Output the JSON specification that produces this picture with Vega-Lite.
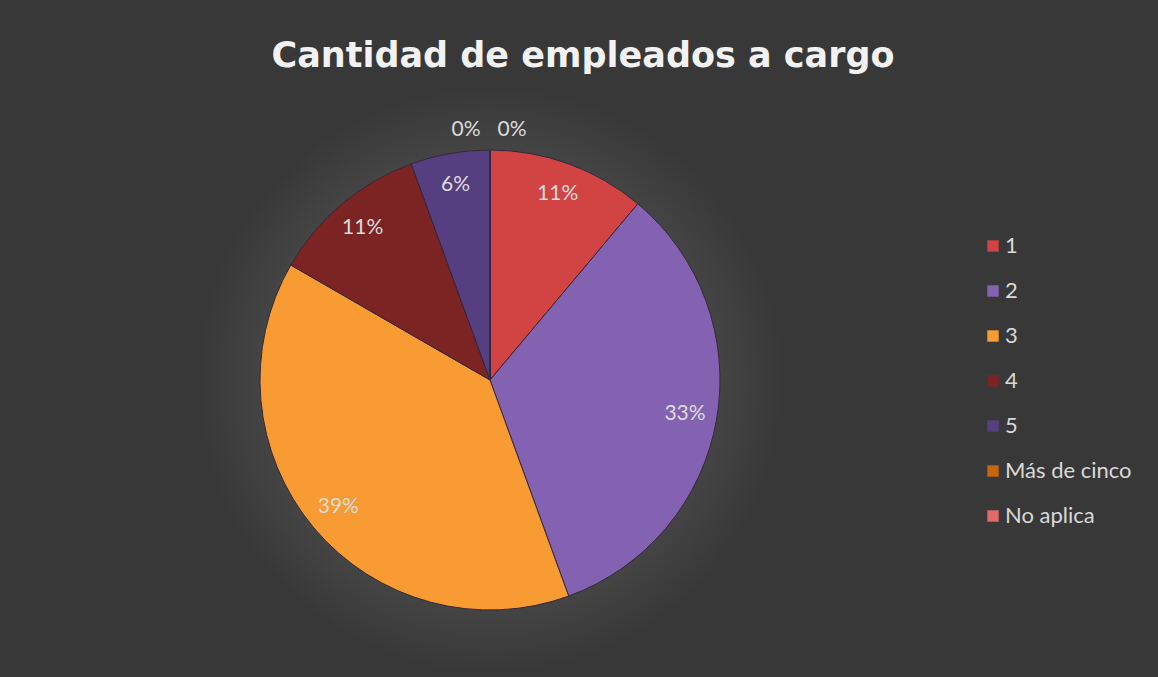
{
  "$schema": "https://vega.github.io/schema/vega-lite/v6.json",
  "autosize": {"type": "none"},
  "width": 980,
  "height": 594,
  "padding": {"left": 0, "top": 83, "right": 178, "bottom": 0},
  "background": "#383838",
  "view": {
    "stroke": null,
    "fill": {
      "gradient": "radial",
      "x1": 0.5, "y1": 0.5, "x2": 0.5, "y2": 0.5, "r1": 0, "r2": 0.3,
      "stops": [
        {"offset": 0, "color": "#4a4a4a"},
        {"offset": 0.75, "color": "#464646"},
        {"offset": 1, "color": "#383838"}
      ]
    }
  },
  "title": {
    "text": "Cantidad de empleados a cargo",
    "font": "DejaVu Sans",
    "fontSize": 35,
    "fontWeight": "bold",
    "color": "#f2f2f2",
    "anchor": "middle",
    "dx": 93,
    "offset": 9
  },
  "data": {
    "values": [
      {"categoria": "1", "porcentaje": 0.1111},
      {"categoria": "2", "porcentaje": 0.3333},
      {"categoria": "3", "porcentaje": 0.3889},
      {"categoria": "4", "porcentaje": 0.1111},
      {"categoria": "5", "porcentaje": 0.0556},
      {"categoria": "Más de cinco", "porcentaje": 0},
      {"categoria": "No aplica", "porcentaje": 0}
    ]
  },
  "encoding": {
    "theta": {"field": "porcentaje", "type": "quantitative", "stack": true},
    "order": {"field": "categoria", "type": "ordinal", "sort": "ascending"}
  },
  "layer": [
    {
      "mark": {"type": "arc", "outerRadius": 230, "stroke": "#35283a", "strokeWidth": 1},
      "encoding": {
        "color": {
          "field": "categoria",
          "type": "nominal",
          "scale": {
            "domain": ["1", "2", "3", "4", "5", "Más de cinco", "No aplica"],
            "range": ["#d24444", "#8462b2", "#f89b33", "#7c2424", "#563f80", "#c8650f", "#df6b6b"]
          },
          "legend": {
            "orient": "none",
            "legendX": 982,
            "legendY": 152,
            "title": null,
            "symbolType": "square",
            "symbolSize": 130,
            "symbolStrokeWidth": 0,
            "labelFont": "Lato",
            "labelFontSize": 22,
            "labelColor": "#d9d9d9",
            "labelOffset": 1,
            "rowPadding": 23
          }
        }
      }
    },
    {
      "transform": [{"filter": "datum.porcentaje > 0"}],
      "mark": {"type": "text", "radius": 198, "font": "Lato", "fontSize": 21, "color": "#dcdcdc", "align": "center", "baseline": "middle"},
      "encoding": {"text": {"field": "porcentaje", "type": "quantitative", "format": ".0%"}}
    },
    {
      "transform": [{"filter": "datum.categoria === 'Más de cinco'"}],
      "mark": {"type": "text", "radius": 250, "dx": -24, "font": "Lato", "fontSize": 21, "color": "#dcdcdc", "align": "center", "baseline": "middle"},
      "encoding": {"text": {"field": "porcentaje", "type": "quantitative", "format": ".0%"}}
    },
    {
      "transform": [{"filter": "datum.categoria === 'No aplica'"}],
      "mark": {"type": "text", "radius": 250, "dx": 22, "font": "Lato", "fontSize": 21, "color": "#dcdcdc", "align": "center", "baseline": "middle"},
      "encoding": {"text": {"field": "porcentaje", "type": "quantitative", "format": ".0%"}}
    }
  ]
}
